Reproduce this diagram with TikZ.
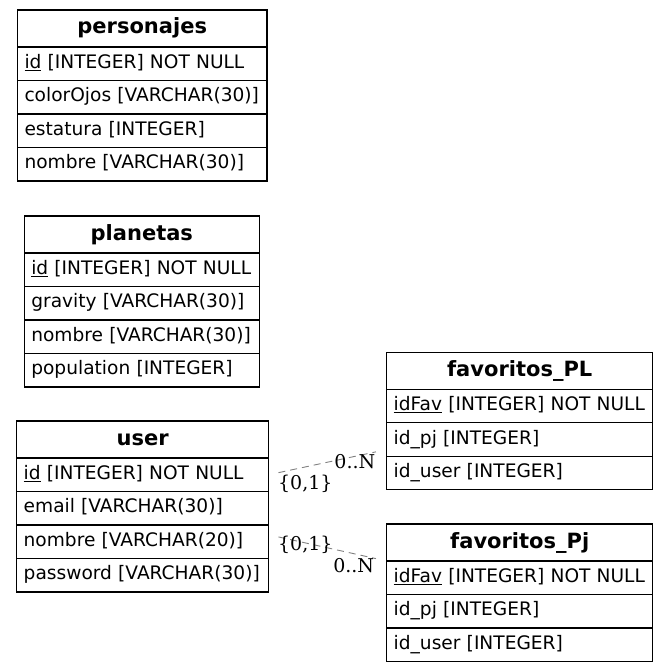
\documentclass[tikz,border=0pt]{standalone}
\usepackage{fontspec}
\setmainfont{DejaVu Sans}
\newfontfamily\cardfont{DejaVu Serif}
\usetikzlibrary{positioning,calc}

\tikzset{
  titulo/.style={draw, line width=1.1pt, outer sep=0pt, minimum height=37, inner sep=0pt,
    font=\fontsize{21}{25}\selectfont\bfseries, text height=15pt, text depth=4pt},
  campo/.style={draw, line width=1.1pt, outer sep=0pt, minimum height=33.5, inner xsep=7pt, inner ysep=0pt,
    text width=#1, align=left, font=\fontsize{18.6}{22}\selectfont, text height=13pt, text depth=4pt},
  fk/.style={gray, dash pattern=on 7pt off 5pt, line width=0.9pt, shorten <=10pt, shorten >=11pt},
  card/.style={text=black, font=\cardfont\fontsize{19}{22}\selectfont, inner sep=0pt}
}

\begin{document}
\begin{tikzpicture}[x=1pt, y=-1pt]
    \useasboundingbox (0,0) rectangle (669,671);

    % personajes
    \node[titulo, minimum width=249.5, anchor=north west] (pj) at (17.5,10) {personajes};
    \node[campo=235.5pt, below=0pt of pj] (pjid) {\underline{id} [INTEGER] NOT NULL};
    \node[campo=235.5pt, below=0pt of pjid] (pjojos) {colorOjos [VARCHAR(30)]};
    \node[campo=235.5pt, below=0pt of pjojos] (pjest) {estatura [INTEGER]};
    \node[campo=235.5pt, below=0pt of pjest] (pjnom) {nombre [VARCHAR(30)]};

    % planetas
    \node[titulo, minimum width=235, anchor=north west] (pl) at (24.3,216) {planetas};
    \node[campo=221pt, below=0pt of pl] (plid) {\underline{id} [INTEGER] NOT NULL};
    \node[campo=221pt, below=0pt of plid] (plgrav) {gravity [VARCHAR(30)]};
    \node[campo=221pt, below=0pt of plgrav] (plnom) {nombre [VARCHAR(30)]};
    \node[campo=221pt, below=0pt of plnom] (plpop) {population [INTEGER]};

    % user
    \node[titulo, minimum width=252, anchor=north west] (us) at (16.7,421) {user};
    \node[campo=238pt, below=0pt of us] (usid) {\underline{id} [INTEGER] NOT NULL};
    \node[campo=238pt, below=0pt of usid] (usmail) {email [VARCHAR(30)]};
    \node[campo=238pt, below=0pt of usmail] (usnom) {nombre [VARCHAR(20)]};
    \node[campo=238pt, below=0pt of usnom] (uspass) {password [VARCHAR(30)]};

    % favoritos_PL
    \node[titulo, minimum width=266, anchor=north west] (fpl) at (386.7,352.3) {favoritos\_PL};
    \node[campo=252pt, below=0pt of fpl] (fplid) {\underline{idFav} [INTEGER] NOT NULL};
    \node[campo=252pt, below=0pt of fplid] (fplpj) {id\_pj [INTEGER]};
    \node[campo=252pt, below=0pt of fplpj] (fpluser) {id\_user [INTEGER]};

    % favoritos_Pj
    \node[titulo, minimum width=266, anchor=north west] (fpj) at (386.7,524) {favoritos\_Pj};
    \node[campo=252pt, below=0pt of fpj] (fpjid) {\underline{idFav} [INTEGER] NOT NULL};
    \node[campo=252pt, below=0pt of fpjid] (fpjpj) {id\_pj [INTEGER]};
    \node[campo=252pt, below=0pt of fpjpj] (fpjuser) {id\_user [INTEGER]};

    % relaciones
    \coordinate (fin1) at ($(fplpj.west)+(0,10)$);
    \coordinate (ini2) at ($(usnom.east)+(0,-7)$);
    \draw[fk] (usid.east) -- (fin1)
        node[card, pos=0.31, yshift=-17pt] {\{0,1\}}
        node[card, pos=0.73, yshift=-5pt] {0..N};
    \draw[fk] (ini2) -- (fpjid.north west)
        node[card, pos=0.31, yshift=-2pt] {\{0,1\}}
        node[card, pos=0.72, yshift=-12pt] {0..N};
\end{tikzpicture}
\end{document}
